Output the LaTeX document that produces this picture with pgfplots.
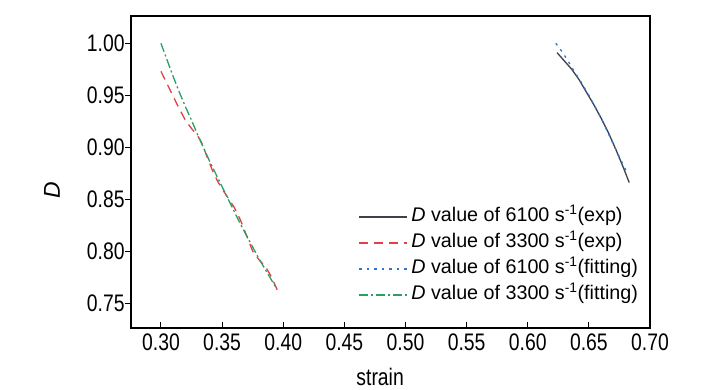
\documentclass[border=0pt]{standalone}
\usepackage{pgfplots}
\pgfplotsset{compat=1.18}
\usepackage{fontspec}
\setmainfont{Liberation Sans}
\definecolor{cgray}{RGB}{64,64,72}
\definecolor{cred}{RGB}{230,62,70}
\definecolor{cblue}{RGB}{50,115,205}
\definecolor{cgreen}{RGB}{40,160,95}
\begin{document}
\begin{tikzpicture}
\begin{axis}[
  scale only axis,
  width=519bp, height=312bp,
  xmin=0.2755, xmax=0.70,
  ymin=0.726, ymax=1.0263,
  xtick={0.30,0.35,...,0.701},
  ytick={0.75,0.80,...,1.001},
  /pgf/number format/fixed,
  /pgf/number format/fixed zerofill,
  /pgf/number format/precision=2,
  /pgf/number format/assume math mode=true,
  font=\fontsize{19.5}{23}\selectfont,
  tick label style={font=\fontsize{24}{28}\selectfont, xscale=0.81, transform shape},
  xticklabel style={yshift=-2bp},
  yticklabel style={xshift=2.5bp},
  axis line style={line width=1.4bp},
  x tick style={black, line width=1bp},
  y tick style={black, line width=1bp},
  xtick pos=bottom, ytick pos=left,
  xtick align=inside, ytick align=outside,
  major tick length=5.5bp,
  xlabel={strain},
  ylabel={\textit{D}},
  every axis x label/.style={at={(axis description cs:0.48,0)}, anchor=center, yshift=-49bp, font=\fontsize{24}{28}\selectfont, xscale=0.81, transform shape},
  every axis y label/.style={at={(axis description cs:0,0.442)}, anchor=center, xshift=-79bp, rotate=90, font=\fontsize{23}{28}\selectfont},
  legend style={at={(axis description cs:0.438,0.388)}, anchor=north west, draw=none, fill=none,
    inner sep=0pt, row sep=6bp, column sep=2bp,
    nodes={inner sep=1.5bp, text height=13bp, text depth=4bp, anchor=west},
    font=\fontsize{19.8}{23}\selectfont},
  legend cell align=left,
  legend image code/.code={\draw[#1] (0bp,0bp) -- (48bp,0bp);},
]
\addplot[cgray, line width=1.3bp] coordinates {
(0.624,0.991) (0.630,0.983) (0.636,0.975) (0.642,0.965) (0.648,0.953) (0.654,0.941)
(0.660,0.928) (0.666,0.914) (0.672,0.898) (0.678,0.881) (0.683,0.866)};
\addlegendentry{\textit{D} value of 6100 s\textsuperscript{-1}(exp)}
\addplot[cred, line width=1.3bp, dash pattern=on 9bp off 6bp] coordinates {
(0.300,0.973) (0.305,0.961) (0.310,0.949) (0.315,0.937) (0.320,0.926) (0.325,0.918)
(0.330,0.911) (0.333,0.905) (0.337,0.893) (0.342,0.878) (0.346,0.868) (0.350,0.860)
(0.355,0.851) (0.360,0.842) (0.365,0.830) (0.370,0.815) (0.375,0.800) (0.380,0.792)
(0.386,0.784) (0.390,0.776) (0.395,0.763)};
\addlegendentry{\textit{D} value of 3300 s\textsuperscript{-1}(exp)}
\addplot[cblue, line width=1.3bp, dash pattern=on 2.5bp off 5bp] coordinates {
(0.623,1.000) (0.628,0.992) (0.633,0.983) (0.638,0.973) (0.644,0.962) (0.650,0.950)
(0.656,0.937) (0.662,0.923) (0.668,0.908) (0.674,0.893) (0.681,0.876)};
\addlegendentry{\textit{D} value of 6100 s\textsuperscript{-1}(fitting)}
\addplot[cgreen, line width=1.3bp, dash pattern=on 9bp off 3bp on 2bp off 3bp] coordinates {
(0.300,1.000) (0.305,0.984) (0.310,0.968) (0.315,0.953) (0.320,0.939) (0.325,0.926)
(0.330,0.912) (0.335,0.899) (0.340,0.886) (0.345,0.874) (0.350,0.862) (0.355,0.850)
(0.360,0.838) (0.365,0.826) (0.370,0.815) (0.375,0.804) (0.380,0.793) (0.385,0.783)
(0.390,0.773) (0.395,0.763)};
\addlegendentry{\textit{D} value of 3300 s\textsuperscript{-1}(fitting)}
\end{axis}
\pgfresetboundingbox
\path ([shift={(-131bp,-62bp)}]current axis.south west) rectangle ([shift={(78bp,16bp)}]current axis.north east);
\end{tikzpicture}
\end{document}
